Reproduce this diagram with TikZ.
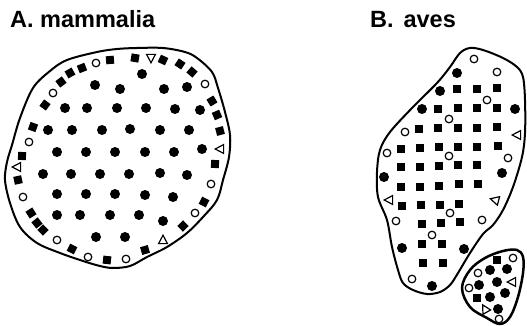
\documentclass[tikz,border=0pt]{standalone}
\usepackage{fontspec}
\setmainfont{Liberation Sans}
\tikzset{
  outl/.style={line width=2pt, line join=round},
  outlthick/.style={line width=2.5pt, line join=round},
  lbl/.style={anchor=base west, inner sep=0pt, font=\fontsize{23.5}{26}\selectfont\bfseries},
  fc/.pic={\fill (0,0) circle (5pt);},
  oc/.pic={\draw[line width=1.2pt, fill=white] (0,0) circle (3.8pt);},
  sq/.pic={\fill (-4pt,-4pt) rectangle (4pt,4pt);},
  sqb/.pic={\fill (-3.8pt,-3.8pt) rectangle (3.8pt,3.8pt);},
  tri/.pic={\draw[line width=1.2pt, line join=miter, fill=white] (-4.8pt,0pt) -- (3.6pt,4.4pt) -- (3.6pt,-4.4pt) -- cycle;}
}
\begin{document}
\begin{tikzpicture}[x=1pt,y=-1pt]
\useasboundingbox (0,0) rectangle (527,326);

% labels
\node[lbl] (labA) at (10,28) {A. mammalia};
\node[lbl] (labB) at (370,28) {B.\hspace{0.42em}aves};

% ---------- A. mammalia ----------
\draw[outl] plot[smooth cycle, tension=0.55] coordinates {
 (137,48) (163,48) (185,52) (197,58) (212,72) (218,88) (225,112) (230,135)
 (229,157) (223,180) (217,200) (203,217) (187,233) (167,247) (147,257)
 (130,266) (113,268) (100,266) (83,261) (60,253) (37,243) (20,227)
 (10,203) (5,180) (7,162) (12,145) (20,118) (33,88) (50,71) (67,60)
 (97,52) (117,49)};

\foreach \x/\y in {142/74,
 95/85,120/89,164/89,187/87,
 65/108,87/108,117/108,146/108,175/109,200/110,
 48/130,72/130,102/130,130/129,160/130,189/130,
 57/152,86/152,115/152,145/152,174/152,202/149,
 43/174,71/174,100/174,129/174,160/173,187/175,
 57/194,86/194,115/194,145/195,173/197,
 57/215,80/215,110/215,139/215,163/221,
 96/237,125/237}
 {\pic at (\x,\y) {fc};}

\foreach \x/\y in {135/58,163/60,180/64,192/72,212/101,217/115,220/131,215/164,
 204/202,183/226,145/250,107/260,72/249,43/230,37/223,31/213,18/180,22/156,
 33/127,45/105,61/82,70/73,82/68,110/60}
 {\pic[rotate={-atan2(\y-158,\x-118)}] at (\x,\y) {sq};}

\foreach \x/\y in {96/63,205/84,211/184,195/213,126/259,88/257,57/240,23/197,29/142,53/93}
 {\pic at (\x,\y) {oc};}

\pic[rotate=90] at (151,58) {tri};
\pic[rotate=0] at (220,149) {tri};
\pic[rotate=-90] at (163,240) {tri};
\pic[rotate=0] at (17,167) {tri};

% ---------- B. aves ----------
\draw[outl] plot[smooth cycle, tension=0.55] coordinates {
 (460,53) (470,48) (483,50) (503,58) (517,67) (523,77) (525,100) (525,133)
 (522,157) (513,187) (503,210) (493,225) (483,234) (470,253) (458,273)
 (450,285) (440,292) (427,294) (413,290) (403,283) (398,270) (392,247)
 (387,220) (378,197) (377,172) (380,150) (390,132) (413,107) (437,83) (450,67)};

\foreach \x/\y in {457/89,477/89,497/88,
 438/109,458/108,477/108,497/108,
 419/129,438/128,458/128,477/128,497/127,
 401/149,420/148,439/147,458/147,477/147,498/146,
 401/167,420/167,439/166,458/165,477/165,
 401/187,420/187,439/186,459/184,478/184,
 402/206,421/205,440/205,459/204,
 422/224,441/223,460/222,
 422/244,442/244,
 423/263,443/263}
 {\pic at (\x,\y) {sqb};}

\foreach \x/\y in {457/73,440/91,422/109,515/109,384/177,502/173,402/248,464/249,432/286}
 {\pic at (\x,\y) {fc};}

\foreach \x/\y in {474/59,497/72,487/100,449/119,405/132,387/153,449/156,508/158,
 450/213,396/221,482/220,432/235,412/279}
 {\pic at (\x,\y) {oc};}

\pic at (517,135) {tri};
\pic at (389,200) {tri};
\pic[rotate=-15] at (495,200) {tri};

% small blob
\draw[outlthick] plot[smooth cycle, tension=0.6] coordinates {
 (503,251) (517,250) (523,257) (523,273) (518,297) (510,317) (500,324)
 (487,318) (470,307) (462,288) (470,270) (485,258)};

\foreach \x/\y in {497/260,477/298}
 {\pic at (\x,\y) {sqb};}
\foreach \x/\y in {507/269,490/270,497/282,479/285,490/297,505/293,498/309}
 {\pic at (\x,\y) {fc};}
\foreach \x/\y in {513/258,478/273,469/288,499/319}
 {\pic at (\x,\y) {oc};}
\pic at (512,282) {tri};
\pic[rotate=-60] at (485,309) {tri};
\end{tikzpicture}
\end{document}
